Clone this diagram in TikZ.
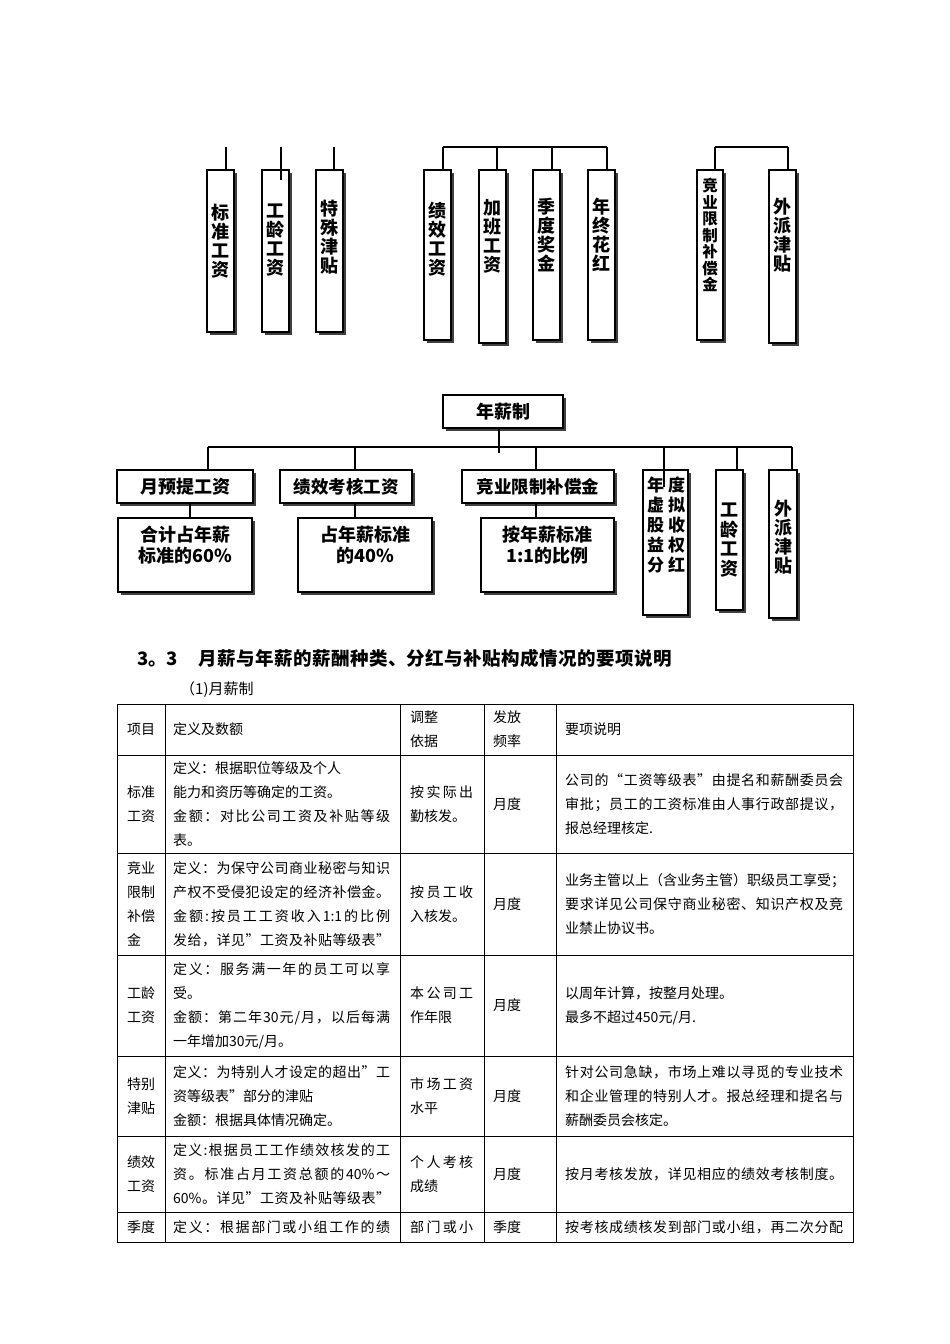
\documentclass[tikz,border=0pt]{standalone}
\usepackage{fontspec}
\setmainfont{Noto Sans CJK SC}
\usetikzlibrary{shadows}
\ExplSyntaxOn
\NewDocumentCommand\spr{mm}{\makebox[#1][s]{\tl_map_inline:nn{#2}{##1\hfil}\unskip}}
\ExplSyntaxOff
\begin{document}
\begin{tikzpicture}[x=1pt,y=-1pt,
  bx/.style={draw, line width=1.1pt, fill=white, inner sep=0pt,
    drop shadow={shadow xshift=3pt, shadow yshift=-3pt, fill=black!75, opacity=1}},
  vt/.style={font=\fontsize{18}{19}\selectfont\bfseries, align=center, inner sep=0pt},
  ht/.style={font=\fontsize{18}{21}\selectfont\bfseries, align=center, inner sep=0pt},
  ln/.style={line width=1.1pt},
  tl/.style={line width=0.8pt},
  cell/.style={font=\fontsize{14}{24}\selectfont, align=left, anchor=west, inner sep=0pt},
  cellc/.style={font=\fontsize{14}{24}\selectfont, align=center, anchor=center, inner sep=0pt}]
\useasboundingbox[fill=white] (0,0) rectangle (950,1344);

% ---------- top group ----------
\node[bx, minimum width=27pt, minimum height=162pt] (b1) at (220.5,251) {};
\node[bx, minimum width=27pt, minimum height=162pt] (b2) at (275.5,251) {};
\node[bx, minimum width=27pt, minimum height=162pt] (b3) at (329.5,251) {};
\node[bx, minimum width=27pt, minimum height=170pt] (b4) at (437.5,255) {};
\node[bx, minimum width=27pt, minimum height=173pt] (b5) at (492.5,256.5) {};
\node[bx, minimum width=27pt, minimum height=170pt] (b6) at (546.5,255) {};
\node[bx, minimum width=27pt, minimum height=170pt] (b7) at (601.5,255) {};
\node[bx, minimum width=26pt, minimum height=170pt] (b8) at (710,255) {};
\node[bx, minimum width=27pt, minimum height=173pt] (b9) at (782.5,256.5) {};

\node[vt] (b1t) at (220.5,241) {标\\准\\工\\资};
\node[vt] (b2t) at (275.5,240) {工\\龄\\工\\资};
\node[vt] (b3t) at (329.5,237) {特\\殊\\津\\贴};
\node[vt] (b4t) at (437.5,239) {绩\\效\\工\\资};
\node[vt] (b5t) at (492.5,236) {加\\班\\工\\资};
\node[vt] (b6t) at (546.5,235) {季\\度\\奖\\金};
\node[vt] (b7t) at (601.5,235) {年\\终\\花\\红};
\node[vt, font=\fontsize{15.5}{16.5}\selectfont\bfseries] (b8t) at (710,235) {竞\\业\\限\\制\\补\\偿\\金};
\node[vt] (b9t) at (782.5,235) {外\\派\\津\\贴};

\coordinate (t1) at (226,147);
\coordinate (t2) at (281,147);
\coordinate (t2e) at (281,180);
\coordinate (t3) at (334,147);
\draw[ln] (t1) -- (t1 |- b1.north);
\draw[ln] (t2) -- (t2e);
\draw[ln] (t3) -- (t3 |- b3.north);

\coordinate (g1) at (443,147);
\coordinate (g2) at (497,147);
\coordinate (g3) at (552,147);
\coordinate (g4) at (607,147);
\draw[ln] (g1) -- (g4);
\draw[ln] (g1) -- (g1 |- b4.north);
\draw[ln] (g2) -- (g2 |- b5.north);
\draw[ln] (g3) -- (g3 |- b6.north);
\draw[ln] (g4) -- (g4 |- b7.north);

\coordinate (h1) at (715,147);
\coordinate (h2) at (788,147);
\draw[ln] (h1) -- (h2);
\draw[ln] (h1) -- (h1 |- b8.north);
\draw[ln] (h2) -- (h2 |- b9.north);

% ---------- annual salary chart ----------
\node[bx, minimum width=120pt, minimum height=33pt] (n0) at (503,411.5) {};
\node[ht] (n0t) at (503,411.5) {年薪制};

\node[bx, minimum width=136pt, minimum height=33pt] (m1) at (185,486.5) {};
\node[bx, minimum width=132pt, minimum height=33pt] (m2) at (346,486.5) {};
\node[bx, minimum width=152pt, minimum height=33pt] (m3) at (538,486.5) {};
\node[bx, minimum width=45pt, minimum height=145pt] (m4) at (665.5,542.5) {};
\node[bx, minimum width=27pt, minimum height=140pt] (m5) at (729.5,540) {};
\node[bx, minimum width=28pt, minimum height=148pt] (m6) at (783,544) {};

\node[ht] (m1t) at (185,486.5) {月预提工资};
\node[ht, font=\fontsize{17.5}{21}\selectfont\bfseries] (m2t) at (346,486.5) {绩效考核工资};
\node[ht, font=\fontsize{17.5}{21}\selectfont\bfseries] (m3t) at (538,486.5) {竞业限制补偿金};
\node[vt, font=\fontsize{17}{20}\selectfont\bfseries] (m4t) at (666,525) {年\hspace{4pt}度\\虚\hspace{4pt}拟\\股\hspace{4pt}收\\益\hspace{4pt}权\\分\hspace{4pt}红};
\node[vt, font=\fontsize{18}{19.5}\selectfont\bfseries] (m5t) at (729.5,540) {工\\龄\\工\\资};
\node[vt, font=\fontsize{18}{19}\selectfont\bfseries] (m6t) at (783,537) {外\\派\\津\\贴};

\node[bx, minimum width=134pt, minimum height=74pt] (r1) at (185,555) {};
\node[bx, minimum width=134pt, minimum height=74pt] (r2) at (365,555) {};
\node[bx, minimum width=133pt, minimum height=74pt] (r3) at (547.5,555) {};
\node[ht] (r1t) at (185,545.5) {合计占年薪\\标准的60\%};
\node[ht] (r2t) at (365,545.5) {占年薪标准\\的40\%};
\node[ht] (r3t) at (547.5,545.5) {按年薪标准\\1:1的比例};

\coordinate (j0) at (499,453);
\coordinate (busL) at (208,447);
\coordinate (busR) at (792,447);
\coordinate (d2) at (355,447);
\coordinate (d3) at (536,447);
\coordinate (d4) at (664,447);
\coordinate (d4e) at (664,487);
\coordinate (d5) at (737,447);
\coordinate (c1) at (190,447);
\draw[ln] (j0 |- n0.south) -- (j0);
\draw[ln] (busL) -- (busR);
\draw[ln] (busL) -- (busL |- m1.north);
\draw[ln] (d2) -- (d2 |- m2.north);
\draw[ln] (d3) -- (d3 |- m3.north);
\draw[ln] (d4) -- (d4e);
\draw[ln] (d5) -- (d5 |- m5.north);
\draw[ln] (busR) -- (busR |- m6.north);
\draw[ln] (c1 |- m1.south) -- (c1 |- r1.north);
\draw[ln] (d2 |- m2.south) -- (d2 |- r2.north);
\draw[ln] (d3 |- m3.south) -- (d3 |- r3.north);

% ---------- heading ----------
\node[anchor=west, inner sep=0pt, font=\fontsize{18.5}{20}\selectfont\bfseries] (hd) at (137,658)
  {3。3\hspace{20pt}\spr{474pt}{月薪与年薪的薪酬种类、分红与补贴构成情况的要项说明}};
\node[anchor=west, inner sep=0pt, font=\fontsize{15}{17}\selectfont] (sub) at (180,690) {（1)月薪制};

% ---------- table ----------
\draw[tl] (117,704) rectangle (853,1242);
\foreach \yy in {755,853,955,1056,1136,1212} \draw[tl] (117,\yy) -- (853,\yy);
\foreach \xx in {165,400,484,556} \draw[tl] (\xx,704) -- (\xx,1242);

% header
\node[cellc] (h-a) at (141,729.5) {项目};
\node[cell] (h-b) at (173,729.5) {定义及数额};
\node[cell] (h-c) at (410,729.5) {调整\\依据};
\node[cell] (h-d) at (493,729.5) {发放\\频率};
\node[cell] (h-e) at (565,729.5) {要项说明};

% row 1
\node[cellc] (r1a) at (141,804) {标准\\工资};
\node[cell] (r1b) at (173,804) {定义：根据职位等级及个人\\能力和资历等确定的工资。\\\spr{217pt}{金额：对比公司工资及补贴等级}\\表。};
\node[cell] (r1c) at (410,804) {\spr{63pt}{按实际出}\\勤核发。};
\node[cell] (r1d) at (493,804) {月度};
\node[cell] (r1e) at (565,804) {\spr{278pt}{公司的“工资等级表”由提名和薪酬委员会}\\\spr{278pt}{审批；员工的工资标准由人事行政部提议，}\\报总经理核定.};

% row 2
\node[cell] (r2a) at (127,904) {竞业\\限制\\补偿\\金};
\node[cell] (r2b) at (173,904) {\spr{217pt}{定义：为保守公司商业秘密与知识}\\\spr{217pt}{产权不受侵犯设定的经济补偿金。}\\\spr{217pt}{金额:按员工工资收入{1:1}的比例}\\\spr{217pt}{发给，详见”工资及补贴等级表”}};
\node[cell] (r2c) at (410,904) {\spr{63pt}{按员工收}\\入核发。};
\node[cell] (r2d) at (493,904) {月度};
\node[cell] (r2e) at (565,904) {业务主管以上（含业务主管）职级员工享受；\\\spr{278pt}{要求详见公司保守商业秘密、知识产权及竞}\\业禁止协议书。};

% row 3
\node[cellc] (r3a) at (141,1005.5) {工龄\\工资};
\node[cell] (r3b) at (173,1005.5) {\spr{217pt}{定义：服务满一年的员工可以享}\\受。\\\spr{217pt}{金额：第二年{30}元/月，以后每满}\\一年增加30元/月。};
\node[cell] (r3c) at (410,1005.5) {\spr{63pt}{本公司工}\\作年限};
\node[cell] (r3d) at (493,1005.5) {月度};
\node[cell] (r3e) at (565,1005.5) {以周年计算，按整月处理。\\最多不超过450元/月.};

% row 4
\node[cellc] (r4a) at (141,1096) {特别\\津贴};
\node[cell] (r4b) at (173,1096) {\spr{217pt}{定义：为特别人才设定的超出”工}\\资等级表”部分的津贴\\金额：根据具体情况确定。};
\node[cell] (r4c) at (410,1096) {\spr{63pt}{市场工资}\\水平};
\node[cell] (r4d) at (493,1096) {月度};
\node[cell] (r4e) at (565,1096) {\spr{278pt}{针对公司急缺，市场上难以寻觅的专业技术}\\\spr{278pt}{和企业管理的特别人才。报总经理和提名与}\\薪酬委员会核定。};

% row 5
\node[cellc] (r5a) at (141,1174) {绩效\\工资};
\node[cell] (r5b) at (173,1174) {\spr{217pt}{定义:根据员工工作绩效核发的工}\\\spr{217pt}{资。标准占月工资总额的{40\%}～}\\\spr{217pt}{{60\%}。详见”工资及补贴等级表”}};
\node[cell] (r5c) at (410,1174) {\spr{63pt}{个人考核}\\成绩};
\node[cell] (r5d) at (493,1174) {月度};
\node[cell] (r5e) at (565,1174) {\spr{278pt}{按月考核发放，详见相应的绩效考核制度。}};

% row 6
\node[cellc] (r6a) at (141,1227) {季度};
\node[cell] (r6b) at (173,1227) {\spr{217pt}{定义：根据部门或小组工作的绩}};
\node[cell] (r6c) at (410,1227) {\spr{63pt}{部门或小}};
\node[cell] (r6d) at (493,1227) {季度};
\node[cell] (r6e) at (565,1227) {\spr{278pt}{按考核成绩核发到部门或小组，再二次分配}};
\end{tikzpicture}
\end{document}
